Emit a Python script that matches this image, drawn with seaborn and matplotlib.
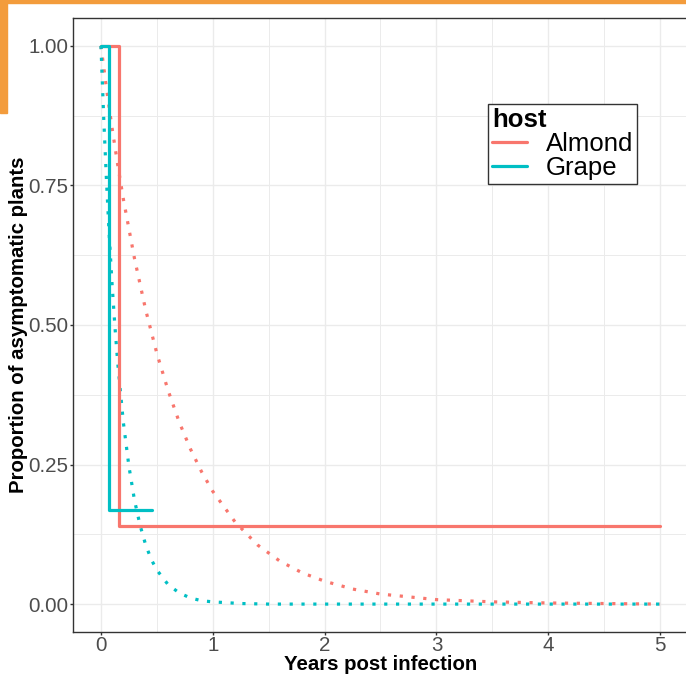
import numpy as np
import pandas as pd
import matplotlib
matplotlib.use("Agg")
import matplotlib.pyplot as plt
from matplotlib.lines import Line2D
from matplotlib.patches import Rectangle
from matplotlib.legend_handler import HandlerLine2D
import seaborn as sns

# Kaplan-Meier steps
almond_t = [0.0, 0.16, 5.0]
almond_s = [1.0, 0.14, 0.14]
grape_t = [0.0, 0.072, 0.456]
grape_s = [1.0, 0.168, 0.168]

# fitted curves (dotted)
almond_fit_t = [0.0, 0.05, 0.1, 0.15, 0.2, 0.3, 0.4, 0.5, 0.6, 0.7, 0.8, 0.9, 1.0, 1.2, 1.4,
                1.6, 1.8, 2.0, 2.25, 2.5, 3.0, 3.5, 4.0, 4.5, 5.0]
almond_fit_s = [1.0, 0.923, 0.852, 0.787, 0.726, 0.619, 0.527, 0.449, 0.383, 0.326, 0.278,
                0.237, 0.202, 0.147, 0.106, 0.077, 0.056, 0.041, 0.027, 0.018, 0.008,
                0.004, 0.002, 0.001, 0.0]
grape_fit_t = [0.0, 0.025, 0.05, 0.075, 0.1, 0.125, 0.15, 0.2, 0.25, 0.3, 0.35, 0.4, 0.45,
               0.5, 0.6, 0.7, 0.8, 0.9, 1.0, 1.25, 1.5, 2.0, 3.0, 4.0, 5.0]
grape_fit_s = [1.0, 0.869, 0.756, 0.657, 0.571, 0.497, 0.432, 0.326, 0.247, 0.186, 0.141,
               0.106, 0.080, 0.061, 0.035, 0.020, 0.011, 0.006, 0.004, 0.001, 0.0, 0.0,
               0.0, 0.0, 0.0]

cores = {'Almond': '#F8766D', 'Grape': '#00BFC4'}

km = pd.concat([
    pd.DataFrame({'t': almond_t, 's': almond_s, 'host': 'Almond'}),
    pd.DataFrame({'t': grape_t, 's': grape_s, 'host': 'Grape'}),
])
fit = pd.concat([
    pd.DataFrame({'t': almond_fit_t, 's': almond_fit_s, 'host': 'Almond'}),
    pd.DataFrame({'t': grape_fit_t, 's': grape_fit_s, 'host': 'Grape'}),
])

sns.set_theme(style='white')
plt.rcParams['font.family'] = ['Liberation Sans', 'DejaVu Sans']

fig = plt.figure(figsize=(6.86, 6.80), dpi=100)
ax = fig.add_axes([73/686, 48/680, 615/686, 614/680])

# grid (major + minor)
for v in np.arange(0, 5.01, 1):
    ax.axvline(v, color='#EBEBEB', lw=1.0, zorder=0)
for v in np.arange(0.5, 5.3, 1):
    ax.axvline(v, color='#EBEBEB', lw=0.7, zorder=0)
for v in np.arange(0, 1.01, 0.25):
    ax.axhline(v, color='#EBEBEB', lw=1.0, zorder=0)
for v in np.arange(0.125, 1.01, 0.25):
    ax.axhline(v, color='#EBEBEB', lw=0.7, zorder=0)

# curvas ajustadas (pontilhadas)
for host in ['Almond', 'Grape']:
    d = fit[fit['host'] == host]
    sns.lineplot(data=d, x='t', y='s', color=cores[host], lw=2.3, ax=ax,
                 estimator=None, sort=False, legend=False, zorder=2)
    ln = ax.lines[-1]
    ln.set_dashes((1, 2.7))
    ln.set_dash_capstyle('butt')

# Kaplan-Meier
for host in ['Almond', 'Grape']:
    d = km[km['host'] == host]
    sns.lineplot(data=d, x='t', y='s', color=cores[host], lw=2.3, ax=ax,
                 estimator=None, sort=False, legend=False,
                 drawstyle='steps-post', zorder=3)

ax.set_xlim(-0.25, 5.25)
ax.set_ylim(-0.05, 1.05)
ax.set_xticks([0, 1, 2, 3, 4, 5])
ax.set_yticks([0, 0.25, 0.5, 0.75, 1.0])
ax.set_yticklabels(['0.00', '0.25', '0.50', '0.75', '1.00'])
ax.tick_params(axis='both', which='major', length=2.5, width=1, color='#333333',
               labelsize=14.8, labelcolor='#4D4D4D', direction='out',
               bottom=True, left=True)
ax.tick_params(axis='x', pad=0.5)
ax.tick_params(axis='y', pad=1)
for sp in ax.spines.values():
    sp.set_color('#333333')
    sp.set_linewidth(1.0)

ax.set_xlabel('Years post infection', fontsize=14.7, fontweight='bold',
              color='black', labelpad=0)
ax.set_ylabel('Proportion of asymptomatic plants', fontsize=14.7,
              fontweight='bold', color='black', labelpad=0)


# legenda: chave um pouco recuada em relacao ao titulo (como no ggplot)
class ChaveRecuada(HandlerLine2D):
    def create_artists(self, legend, orig_handle, xdescent, ydescent, width,
                       height, fontsize, trans):
        arts = super().create_artists(legend, orig_handle, xdescent, ydescent,
                                      width, height, fontsize, trans)
        for a in arts:
            xd = np.asarray(a.get_xdata(), dtype=float)
            if xd.size == 2:
                a.set_xdata([xd[0] + 0.12 * width, xd[1]])
        return arts


handles = [Line2D([0], [0], color=cores[h], lw=2.3) for h in ['Almond', 'Grape']]
leg = ax.legend(handles, ['Almond', 'Grape'], title='host', loc='upper left',
                bbox_to_anchor=((488 - 73) / 615, (632 - 104) / 614),
                fontsize=18.5, title_fontproperties={'weight': 'bold', 'size': 18.5},
                alignment='left', frameon=True, fancybox=False, framealpha=1,
                edgecolor='#333333', borderpad=0.15, labelspacing=0.0,
                handlelength=1.35, handletextpad=0.74, borderaxespad=0,
                labelcolor='black', handler_map={Line2D: ChaveRecuada()})
leg.get_title().set_color('black')
leg.get_frame().set_linewidth(1.0)

# orange strips on the edges of the screenshot
fig.patches.append(Rectangle((0, 677/680), 1, 3/680, transform=fig.transFigure,
                             color='#F39C3C', zorder=10))
fig.patches.append(Rectangle((0, (680-113)/680), 7/686, 113/680,
                             transform=fig.transFigure, color='#F39C3C', zorder=10))

fig.savefig('out.png', dpi=100)
